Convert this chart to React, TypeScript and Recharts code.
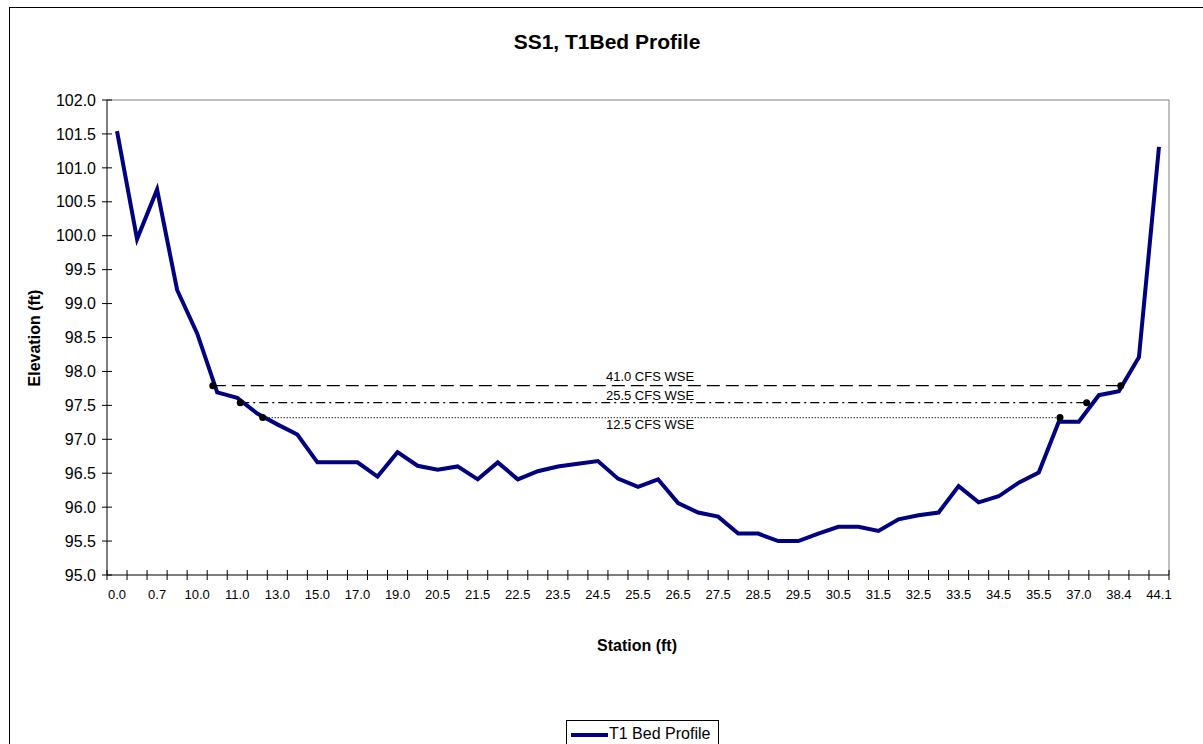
import { Line, LineChart, ReferenceDot, ReferenceLine, XAxis, YAxis } from 'recharts';

// station labels along the category axis (only every other one is printed)
const stations = [
	'0.0', '0.3', '0.7', '9.0', '10.0', '10.5', '11.0', '12.0', '13.0', '14.0',
	'15.0', '16.0', '17.0', '18.0', '19.0', '20.0', '20.5', '21.0', '21.5', '22.0',
	'22.5', '23.0', '23.5', '24.0', '24.5', '25.0', '25.5', '26.0', '26.5', '27.0',
	'27.5', '28.0', '28.5', '29.0', '29.5', '30.0', '30.5', '31.0', '31.5', '32.0',
	'32.5', '33.0', '33.5', '34.0', '34.5', '35.0', '35.5', '36.0', '37.0', '38.0',
	'38.4', '40.0', '44.1',
];

const elevations = [
	101.54, 99.95, 100.68, 99.2, 98.56, 97.69, 97.61, 97.38, 97.22, 97.07,
	96.66, 96.66, 96.66, 96.45, 96.81, 96.61, 96.55, 96.6, 96.41, 96.66,
	96.41, 96.53, 96.6, 96.64, 96.68, 96.42, 96.3, 96.41, 96.06, 95.92,
	95.86, 95.61, 95.61, 95.5, 95.5, 95.61, 95.71, 95.71, 95.65, 95.82,
	95.88, 95.92, 96.31, 96.07, 96.16, 96.36, 96.51, 97.26, 97.26, 97.65,
	97.71, 98.21, 101.31,
];

const yTicks = [95.0, 95.5, 96.0, 96.5, 97.0, 97.5, 98.0, 98.5, 99.0, 99.5, 100.0, 100.5, 101.0, 101.5, 102.0];

// water surface elevations, start / end given in station-index units
const wseNames = ['41.0 CFS WSE', '25.5 CFS WSE', '12.5 CFS WSE'];
const wseElevations = [97.79, 97.54, 97.32];
const wseFrom = [4.78, 6.15, 7.27];
const wseTo = [50.09, 48.39, 47.06];
const wseLabelAt = [26.6, 26.6, 26.6];

const wseLook = [
	{ dash: '13 6', pos: 'top', offset: 5 },
	{ dash: '9 4 2 4', pos: 'top', offset: 3 },
	{ dash: '1 2', pos: 'bottom', offset: 2 },
];

const data = stations.map((s, i) => ({ idx: i, station: s, elev: elevations[i] }));

const W = 1203;
const H = 744;
const margin = { top: 100, right: 34, bottom: 139, left: 47 };
const Y_AXIS_W = 60;
const X_AXIS_H = 30;
const step = (W - margin.left - Y_AXIS_W - margin.right) / stations.length;
const font = '"Liberation Sans", Arial, sans-serif';

function StationTick(props: any) {
	const { x, y, payload } = props;
	const i = payload.value as number;
	const axisY = y - 15;
	const left = x - step / 2;
	return (
		<g>
			<line x1={left} x2={left} y1={axisY - 5} y2={axisY + 5} stroke="#000" />
			{i === stations.length - 1 && (
				<line x1={x + step / 2} x2={x + step / 2} y1={axisY - 5} y2={axisY + 5} stroke="#000" />
			)}
			{i % 2 === 0 && (
				<text x={x} y={y} dy="0.71em" textAnchor="middle" fontSize={13} fill="#000" fontFamily={font}>
					{stations[i]}
				</text>
			)}
		</g>
	);
}

function ElevTick(props: any) {
	const { x, y, payload } = props;
	return (
		<g>
			<line x1={x + 6} x2={x + 16} y1={y} y2={y} stroke="#000" />
			<text x={x} y={y} dy="0.355em" textAnchor="end" fontSize={16} fill="#000" fontFamily={font}>
				{Number(payload.value).toFixed(1)}
			</text>
		</g>
	);
}

export default function App() {
	return (
		<div
			style={{
				position: 'fixed',
				left: 0,
				top: 0,
				width: W,
				height: H,
				overflow: 'hidden',
				background: '#fff',
				fontFamily: font,
				color: '#000',
			}}
		>
			<div style={{ position: 'absolute', left: 9, top: 7, width: 1300, height: 900, border: '1px solid #000' }} />
			<div
				style={{
					position: 'absolute',
					left: 0,
					top: 31,
					width: 1214,
					textAlign: 'center',
					fontWeight: 'bold',
					fontSize: 21,
					lineHeight: '22px',
				}}
			>
				SS1, T1Bed Profile
			</div>
			<div style={{ position: 'absolute', left: 0, top: 0 }}>
				<LineChart width={W} height={H} data={data} margin={margin}>
					<XAxis
						type="number"
						dataKey="idx"
						domain={[-0.5, stations.length - 0.5]}
						ticks={data.map((d) => d.idx)}
						interval={0}
						tickLine={false}
						axisLine={{ stroke: '#000' }}
						tickSize={5}
						tickMargin={10}
						height={X_AXIS_H}
						tick={<StationTick />}
					/>
					<YAxis
						type="number"
						domain={[95, 102]}
						ticks={yTicks}
						interval={0}
						tickLine={false}
						axisLine={{ stroke: '#000' }}
						tickSize={5}
						tickMargin={6}
						width={Y_AXIS_W}
						tick={<ElevTick />}
					/>
					<ReferenceLine y={102} stroke="#808080" />
					<ReferenceLine x={stations.length - 0.5} stroke="#808080" />
					{wseNames.map((name, i) => (
						<ReferenceLine
							key={name}
							segment={[
								{ x: wseFrom[i], y: wseElevations[i] },
								{ x: wseTo[i], y: wseElevations[i] },
							]}
							stroke="#000"
							strokeWidth={1.3}
							strokeDasharray={wseLook[i].dash}
						/>
					))}
					<Line
						type="linear"
						dataKey="elev"
						stroke="#000080"
						strokeWidth={4}
						dot={false}
						isAnimationActive={false}
					/>
					{wseNames.map((name, i) => (
						<ReferenceDot
							key={name + '-a'}
							x={wseFrom[i]}
							y={wseElevations[i]}
							r={3.5}
							fill="#000"
							stroke="none"
						/>
					))}
					{wseNames.map((name, i) => (
						<ReferenceDot
							key={name + '-b'}
							x={wseTo[i]}
							y={wseElevations[i]}
							r={3.5}
							fill="#000"
							stroke="none"
						/>
					))}
					{wseNames.map((name, i) => (
						<ReferenceDot
							key={name + '-label'}
							x={wseLabelAt[i]}
							y={wseElevations[i]}
							r={0.01}
							fill="none"
							stroke="none"
							label={{
								value: name,
								position: wseLook[i].pos as any,
								offset: wseLook[i].offset,
								fontSize: 13,
								fill: '#000',
								fontFamily: font,
							}}
						/>
					))}
				</LineChart>
			</div>
			<div
				style={{
					position: 'absolute',
					left: 35,
					top: 338,
					transform: 'translate(-50%, -50%) rotate(-90deg)',
					whiteSpace: 'nowrap',
					fontWeight: 'bold',
					fontSize: 16,
				}}
			>
				Elevation (ft)
			</div>
			<div
				style={{
					position: 'absolute',
					left: 437,
					top: 636,
					width: 400,
					textAlign: 'center',
					fontWeight: 'bold',
					fontSize: 16,
					lineHeight: '20px',
				}}
			>
				Station (ft)
			</div>
			<div
				style={{
					position: 'absolute',
					left: 566,
					top: 720,
					width: 151,
					height: 40,
					border: '1px solid #000',
				}}
			>
				<div style={{ position: 'absolute', left: 4, top: 12, width: 37, height: 4, background: '#000080' }} />
				<div style={{ position: 'absolute', left: 42, top: 4, fontSize: 16, lineHeight: '18px', whiteSpace: 'nowrap' }}>
					T1 Bed Profile
				</div>
			</div>
		</div>
	);
}
